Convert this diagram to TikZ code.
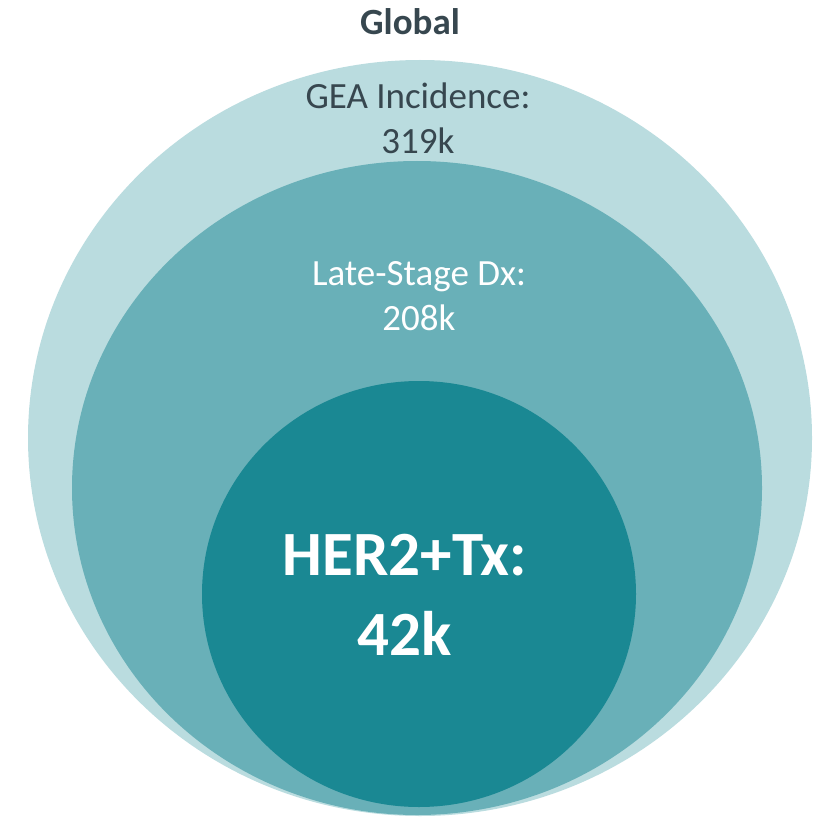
\documentclass[tikz,border=0pt]{standalone}
\usepackage{fontspec}
\setmainfont{Carlito}
\definecolor{outerc}{HTML}{BADCDF}
\definecolor{midc}{HTML}{69B0B8}
\definecolor{innerc}{HTML}{1A8893}
\definecolor{darktxt}{HTML}{37474F}
\begin{document}
\begin{tikzpicture}[x=1pt,y=-1pt,
  lbl/.style={align=center,inner sep=0pt,font=\fontsize{37}{45}\selectfont},
  biglbl/.style={align=center,inner sep=0pt,font=\fontsize{63}{80}\selectfont\bfseries,text=white}]
\useasboundingbox (0,0) rectangle (815,818);
\fill[outerc] (420,438) ellipse [x radius=392pt, y radius=378pt];
\fill[midc] (417,488) ellipse [x radius=345pt, y radius=327pt];
\fill[innerc] (419,594) ellipse [x radius=217pt, y radius=213pt];
\node[lbl,font=\fontsize{37}{40}\selectfont\bfseries,text=darktxt] (global) at (410,22) {Global};
\node[lbl,text=darktxt] (gea) at (418,118) {GEA Incidence:\\319k};
\node[lbl,text=white] (late) at (419,296) {Late-Stage Dx:\\208k};
\node[biglbl] (her) at (405,595) {HER2+Tx:\\42k};
\end{tikzpicture}
\end{document}
